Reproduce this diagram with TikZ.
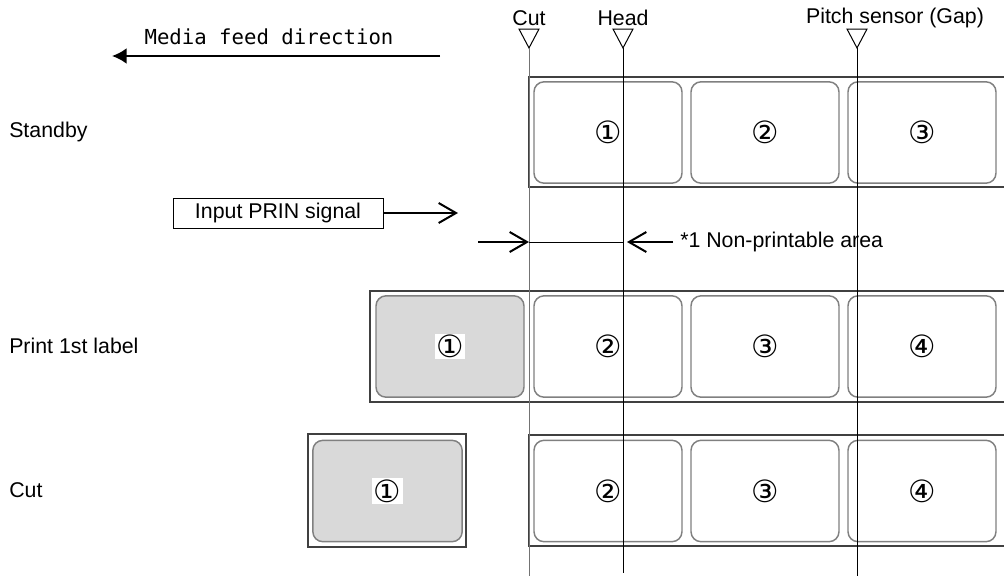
\documentclass[tikz,border=0pt]{standalone}
\usepackage{fontspec}
\setmainfont{Liberation Sans}
\newfontfamily\circfont{DejaVu Sans}
\newfontfamily\feedfont{DejaVu Sans Mono}
\usetikzlibrary{arrows.meta}

\begin{document}
\begin{tikzpicture}[
  x=0.75pt, y=-0.75pt,
  font=\fontsize{16}{19}\selectfont,
  lbl/.style={draw=black!50, line width=1.1pt, rounded corners=7.5pt, minimum width=111pt, minimum height=76pt, inner sep=0pt, font=\circfont\fontsize{23}{26}\selectfont},
  done/.style={lbl, fill=black!15},
  num/.style={fill=white, inner sep=1pt, font=\circfont\fontsize{23}{26}\selectfont},
  media/.style={draw=black!75, line width=1.5pt},
  sensor/.style={line width=0.75pt},
  tri/.style={draw, line width=0.75pt, line join=miter},
  rowname/.style={anchor=west, inner sep=0pt},
  feed/.style={line width=1.9pt, -{Latex[length=11pt,width=12pt]}},
  sig/.style={line width=1.5pt, -{Straight Barb[length=13pt,width=15pt]}}
]
\useasboundingbox (0,0) rectangle (1004,576);

% row names
\node[rowname] (standby) at (9,132) {Standby};
\node[rowname] (print) at (9,346) {Print 1st label};
\node[rowname] (cutrow) at (9,490) {Cut};

% feed direction
\node[font=\feedfont\fontsize{15.5}{18}\selectfont] (feedtxt) at (269,37) {Media feed direction};
\coordinate (feedtail) at (440,56);
\coordinate (feedtip) at (112,56);
\draw[feed] (feedtail) -- (feedtip);

% media, standby
\draw[media] (1004,77) -- (529,77) -- (529,187) -- (1004,187);
\node[lbl] (s1) at (608,132.5) {①};
\node[lbl] (s2) at (765,132.5) {②};
\node[lbl] (s3) at (922,132.5) {③};

% media, print 1st label
\draw[media] (1004,291) -- (370,291) -- (370,402) -- (1004,402);
\node[done] (p1) at (450,346.5) {};
\node[num] (p1n) at (p1.center) {①};
\node[lbl] (p2) at (608,346.5) {②};
\node[lbl] (p3) at (765,346.5) {③};
\node[lbl] (p4) at (922,346.5) {④};

% media, cut
\draw[media] (308,434) rectangle (466,547);
\node[done, minimum width=112pt] (c1) at (387.5,491) {};
\node[num] (c1n) at (c1.center) {①};
\draw[media] (1004,435) -- (529,435) -- (529,546) -- (1004,546);
\node[lbl] (c2) at (608,491) {②};
\node[lbl] (c3) at (765,491) {③};
\node[lbl] (c4) at (922,491) {④};

% sensors
\node (cutname) at (529,18) {Cut};
\node (headname) at (623,18) {Head};
\node (pitchname) at (895,18) {Pitch sensor (Gap)};
\draw[tri] (519,29) -- (539,29) -- (529,48) -- cycle;
\draw[tri] (613,29) -- (633,29) -- (623,48) -- cycle;
\draw[tri] (847,29) -- (867,29) -- (857,48) -- cycle;
\coordinate (cuttop) at (529,48);
\coordinate (cutend) at (529,576);
\coordinate (headtop) at (623,48);
\coordinate (headend) at (623,573);
\coordinate (pitchtop) at (857,48);
\coordinate (pitchend) at (857,576);
\draw[sensor, black!55] (cuttop) -- (cutend);
\draw[sensor] (headtop) -- (headend);
\draw[sensor] (pitchtop) -- (pitchend);

% PRIN signal
\node[draw, line width=0.75pt, minimum width=157.5pt, minimum height=22.5pt, inner sep=0pt] (prin) at (278,213) {Input PRIN signal};
\coordinate (prinend) at (458,213);
\draw[sig] (prin) -- (prinend);

% non-printable area
\coordinate (np0) at (478,242);
\coordinate (npcut) at (529,242);
\coordinate (nphead) at (623,242);
\coordinate (np1) at (673,242);
\draw[sig] (np0) -- (npcut);
\draw[sensor] (npcut) -- (nphead);
\draw[sig, shorten >=3pt] (np1) -- (nphead);
\node[anchor=west, inner sep=0pt] (nptxt) at (680,242) {*1 Non-printable area};
\end{tikzpicture}
\end{document}
